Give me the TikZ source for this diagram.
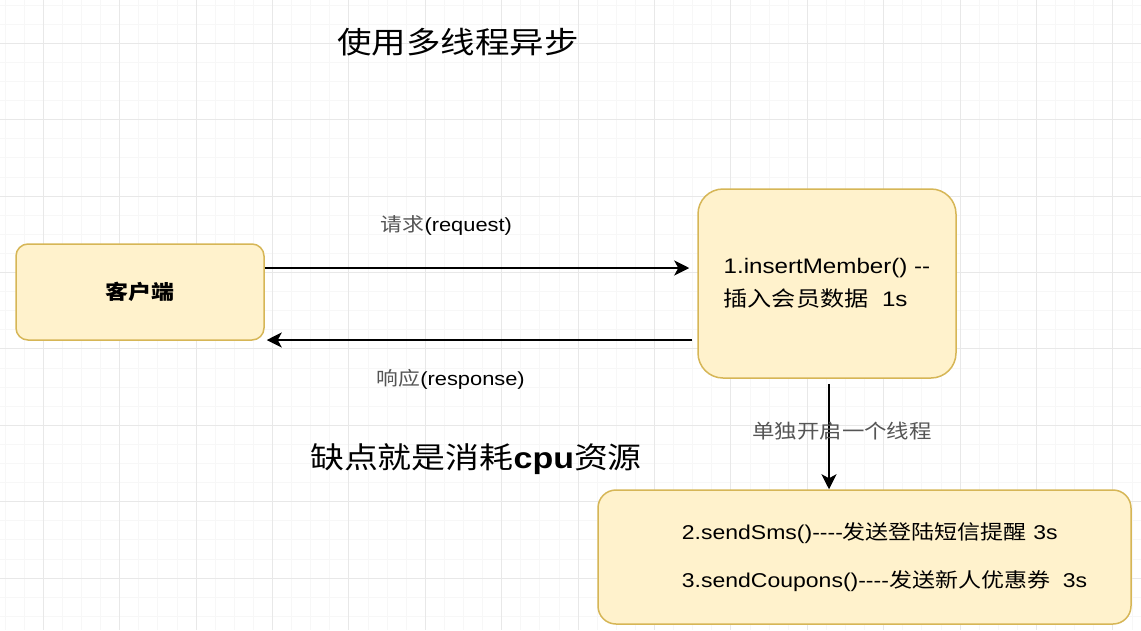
\documentclass[tikz,border=0pt]{standalone}
\usepackage{fontspec}
\setmainfont{Liberation Sans}[FakeStretch=1.15, Ligatures=TeXOff]
\newfontfamily\cjk{Noto Sans CJK SC}[FakeStretch=1.15]
\usetikzlibrary{arrows.meta}

\definecolor{boxfill}{HTML}{FFF2CC}
\definecolor{boxline}{HTML}{D6B656}
\definecolor{gridmajor}{HTML}{E8E8E8}
\definecolor{gridminor}{HTML}{F7F7F7}
\definecolor{labelgray}{HTML}{555555}

\begin{document}
\begin{tikzpicture}[x=1pt, y=-1pt,
        box/.style={draw=boxline, fill=boxfill, line width=1.5pt, align=left, inner sep=0pt},
        arr/.style={line width=1.8pt, -{Stealth[length=15pt, width=15pt, inset=4pt]}},
        lbl/.style={font=\fontsize{19}{22}\selectfont, text=labelgray}]
    \useasboundingbox (0, 0) rectangle (1141, 630);
    \fill [white] (0, 0) rectangle (1141, 630);
    % background grid
    \foreach \g in {4.8, 23.9, ..., 1141} {
        \draw [gridminor] (\g, 0) -- (\g, 630);
        \draw [gridminor] (0, \g) -- (1141, \g);
    }
    \foreach \g in {43, 119.4, ..., 1141} {
        \draw [gridmajor] (\g, 0) -- (\g, 630);
        \draw [gridmajor] (0, \g) -- (1141, \g);
    }

    \node [font=\cjk\fontsize{30}{36}\selectfont] (title) at (458, 42) {使用多线程异步};
    \node [font=\cjk\fontsize{29.5}{34}\selectfont] (downside) at (476, 459) {缺点就是消耗{\rmfamily\bfseries cpu}资源};

    \node [box, align=center, rounded corners=12pt, minimum width=248pt, minimum height=96pt,
        font=\cjk\bfseries\fontsize{20}{24}\selectfont] (client) at (140, 292) {客户端};
    \node [box, rounded corners=25pt, minimum width=258pt, minimum height=189pt,
        font=\fontsize{21}{33}\selectfont] (member) at (827, 283.5)
        {1.insertMember() --\\{\cjk 插入会员数据}\ \ 1s};
    \node [box, rounded corners=18pt, minimum width=533pt, minimum height=134pt,
        font=\fontsize{20}{48}\selectfont] (tasks) at (864.5, 557)
        {\hspace*{40pt}2.sendSms()----{\cjk 发送登陆短信提醒} 3s\\
         \hspace*{40pt}3.sendCoupons()----{\cjk 发送新人优惠券}\ \ 3s};

    % request / response
    \draw [arr, shorten >=8pt] ([yshift=24pt]client.east) -- ([yshift=24pt]client.east -| member.west)
        node [lbl, pos=0.42, yshift=43pt] {{\cjk 请求}\textcolor{black}{(request)}};
    \draw [arr, shorten <=5pt, shorten >=2pt] ([yshift=-48pt]client.east -| member.west) -- ([yshift=-48pt]client.east)
        node [lbl, pos=0.57, yshift=-39pt] {{\cjk 响应}\textcolor{black}{(response)}};

    % new thread
    \draw [arr, shorten <=5pt] (member.south) ++(2, 0) coordinate (split) -- (split |- tasks.north)
        node [lbl, pos=0.47, xshift=13pt, font=\cjk\fontsize{19.5}{22}\selectfont] {单独开启一个线程};
\end{tikzpicture}
\end{document}
